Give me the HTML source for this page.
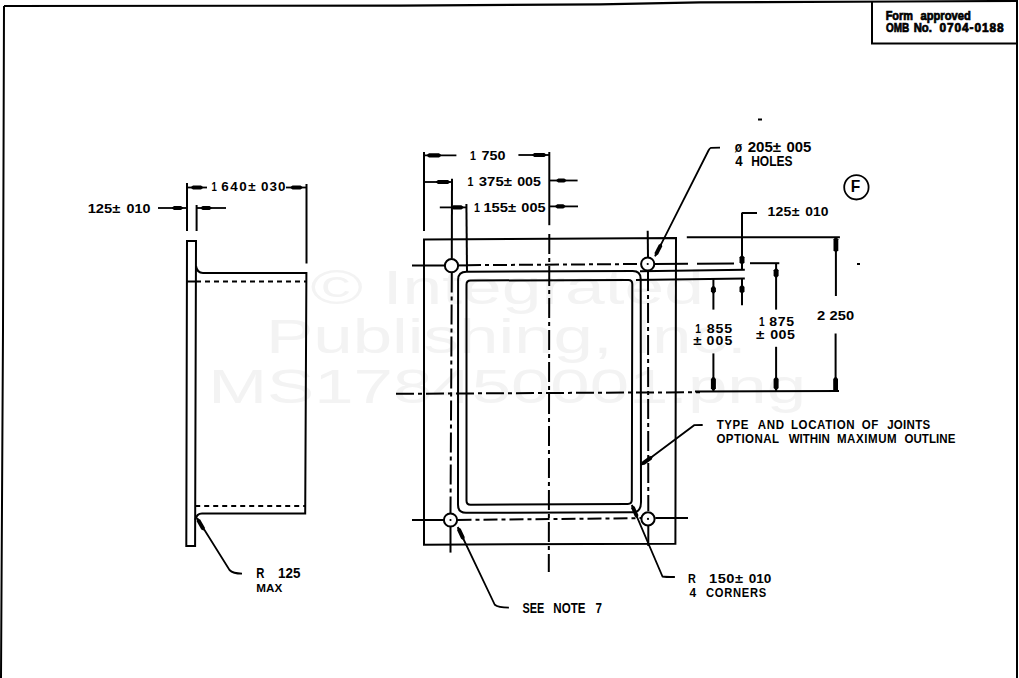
<!DOCTYPE html>
<html><head><meta charset="utf-8">
<style>
html,body{margin:0;padding:0;background:#fff;}
body{width:1019px;height:678px;overflow:hidden;position:relative;}
svg{position:absolute;left:0;top:0;}
text{font-family:"Liberation Sans",sans-serif;}
</style></head><body>
<svg width="1019" height="678" viewBox="0 0 1019 678">
<g fill="#f3f3f3" font-size="48"><text transform="translate(310.43,304) scale(1.4855,1)" textLength="264.88" lengthAdjust="spacingAndGlyphs">© Integrated</text>
<text transform="translate(265.95,353) scale(1.4766,1)" textLength="325.54" lengthAdjust="spacingAndGlyphs">Publishing, Inc.</text>
<text transform="translate(208.16,403) scale(1.4738,1)" textLength="405.69" lengthAdjust="spacingAndGlyphs">MS178450001.png</text></g>
<g fill="none" stroke="#000" stroke-width="2">
<path d="M4,6 L400,5.6 L600,4.3 L700,2.4 L900,1.5 L1017,1" stroke-width="2.2"/>
<path d="M4,6 L3,330 L1,678"/>
<line x1="1017" y1="0" x2="1017" y2="678"/>
<path d="M872,1.5 V43.4 H1017"/>
<line x1="187" y1="183" x2="187" y2="231"/>
<line x1="196.6" y1="205" x2="196.6" y2="231"/>
<line x1="306.5" y1="184" x2="306.5" y2="263.5"/>
<line x1="187" y1="187.5" x2="207" y2="187.5" stroke-width="1.8"/>
<polygon points="191.0,188.1 193.0,189.6 201.0,189.6 203.0,188.1 203.0,186.9 201.0,185.4 193.0,185.4 191.0,186.9" fill="#000" stroke="none"/>
<line x1="286" y1="187.5" x2="306.5" y2="187.5" stroke-width="1.8"/>
<polygon points="302.5,186.9 300.5,185.4 292.5,185.4 290.5,186.9 290.5,188.1 292.5,189.6 300.5,189.6 302.5,188.1" fill="#000" stroke="none"/>
<line x1="158" y1="208" x2="187" y2="208" stroke-width="1.8"/>
<polygon points="183.0,207.4 181.0,205.9 174.0,205.9 172.0,207.4 172.0,208.6 174.0,210.1 181.0,210.1 183.0,208.6" fill="#000" stroke="none"/>
<line x1="196.6" y1="208" x2="226" y2="208" stroke-width="1.8"/>
<polygon points="200.6,208.6 202.6,210.1 209.6,210.1 211.6,208.6 211.6,207.4 209.6,205.9 202.6,205.9 200.6,207.4" fill="#000" stroke="none"/>
<path d="M186.3,546 L187,241 H196 L195.1,546 Z"/>
<path d="M196,266 Q197,273 203,273 H306.4 L305.2,513.5 H202 Q196.5,513.5 195.3,520"/>
<line x1="187" y1="281.5" x2="196" y2="281.5"/>
<line x1="196" y1="281.5" x2="306.4" y2="281.5" stroke-dasharray="5,4"/>
<line x1="195.2" y1="506" x2="305.3" y2="506" stroke-dasharray="5,4"/>
<path d="M197,518 L229.5,570 Q233,573.6 242,573.6" stroke-width="1.8"/>
<polygon points="197.0,519.2 196.8,521.6 201.3,529.4 203.5,530.4 204.5,529.8 204.8,527.4 200.2,519.6 198.0,518.6" fill="#000" stroke="none"/>
<path d="M424,239.4 L676,238 L675.4,543.7 L424,544.7 Z"/>
<path d="M466.5,271.7 L632.7,271.1 Q640.7,271.1 640.7,279 L641,502 Q641,512.2 633,512.2 L466,512.8 Q458,512.8 458,504.8 L458.1,279.7 Q458.1,271.7 466.5,271.7 Z"/>
<path d="M470.5,280.5 L628.3,280 Q632.3,280 632.3,284 L631.8,500 Q631.8,503.9 627.8,503.9 L470.5,504.8 Q466.5,504.8 466.5,500.8 L466.5,284.5 Q466.5,280.5 470.5,280.5 Z"/>
<circle cx="451.5" cy="265.7" r="6.6"/>
<circle cx="647.7" cy="264" r="6.6"/>
<circle cx="647.7" cy="264" r="1.1" fill="#000" stroke="none"/>
<circle cx="450.5" cy="520" r="6.6"/>
<circle cx="450.5" cy="520" r="1.1" fill="#000" stroke="none"/>
<circle cx="648" cy="518.9" r="6.6"/>
<circle cx="648" cy="518.9" r="1.1" fill="#000" stroke="none"/>
<line x1="452" y1="178.7" x2="451.8" y2="258.4"/>
<line x1="451.8" y1="272.4" x2="450.5" y2="513" stroke-dasharray="20,4,4,4"/>
<line x1="450.5" y1="527" x2="450.5" y2="552.6"/>
<line x1="647.7" y1="230.8" x2="648" y2="257"/>
<line x1="648" y1="271" x2="648.3" y2="511" stroke-dasharray="20,4,4,4"/>
<line x1="648.3" y1="525" x2="648.3" y2="546"/>
<line x1="412" y1="265.4" x2="444.8" y2="265.4"/>
<line x1="458.8" y1="265.4" x2="467" y2="265.4"/>
<line x1="467" y1="265.2" x2="640" y2="264" stroke-dasharray="14,4,4,4"/>
<line x1="655" y1="264" x2="688" y2="263.8"/>
<line x1="697" y1="263.7" x2="734" y2="263.6"/>
<line x1="412" y1="520" x2="443.5" y2="520"/>
<line x1="457.5" y1="520" x2="641" y2="518.1" stroke-dasharray="14,4,4,4"/>
<line x1="655.3" y1="518.1" x2="688" y2="518"/>
<line x1="549.3" y1="152" x2="549.3" y2="225.2"/>
<line x1="549.3" y1="234" x2="548.8" y2="572" stroke-dasharray="20,4,4,4"/>
<line x1="396" y1="393.8" x2="700" y2="392.2" stroke-dasharray="18,4,4,4"/>
<line x1="695" y1="391.6" x2="839" y2="391"/>
<line x1="424" y1="152" x2="424" y2="231"/>
<line x1="424" y1="155.4" x2="456.4" y2="155.4" stroke-width="1.8"/>
<polygon points="427.0,156.0 429.0,157.5 439.0,157.5 441.0,156.0 441.0,154.8 439.0,153.3 429.0,153.3 427.0,154.8" fill="#000" stroke="none"/>
<line x1="518.4" y1="155" x2="549.3" y2="155" stroke-width="1.8"/>
<polygon points="546.3,154.4 544.3,152.9 534.3,152.9 532.3,154.4 532.3,155.6 534.3,157.1 544.3,157.1 546.3,155.6" fill="#000" stroke="none"/>
<line x1="424" y1="182" x2="452" y2="182" stroke-width="1.8"/>
<polygon points="450.0,181.4 448.0,179.9 438.0,179.9 436.0,181.4 436.0,182.6 438.0,184.1 448.0,184.1 450.0,182.6" fill="#000" stroke="none"/>
<line x1="549.3" y1="180.5" x2="577.6" y2="180.5" stroke-width="1.8"/>
<polygon points="556.3,181.1 558.3,182.6 564.3,182.6 566.3,181.1 566.3,179.9 564.3,178.4 558.3,178.4 556.3,179.9" fill="#000" stroke="none"/>
<line x1="439.8" y1="207.4" x2="466.4" y2="207.4" stroke-width="1.8"/>
<polygon points="463.4,206.8 461.4,205.3 453.4,205.3 451.4,206.8 451.4,208.0 453.4,209.5 461.4,209.5 463.4,208.0" fill="#000" stroke="none"/>
<line x1="466.4" y1="204" x2="467" y2="271.9"/>
<line x1="549.3" y1="206.4" x2="578" y2="206.4" stroke-width="1.8"/>
<polygon points="555.3,207.0 557.3,208.5 563.3,208.5 565.3,207.0 565.3,205.8 563.3,204.3 557.3,204.3 555.3,205.8" fill="#000" stroke="none"/>
<line x1="686.8" y1="237.3" x2="839.9" y2="237.2"/>
<line x1="835.9" y1="237.2" x2="835.9" y2="296"/>
<polygon points="835.3,237.2 833.5,239.2 833.5,250.2 835.3,252.2 836.5,252.2 838.3,250.2 838.3,239.2 836.5,237.2" fill="#000" stroke="none"/>
<line x1="835.6" y1="333.5" x2="835.6" y2="391"/>
<polygon points="836.2,391.5 838.0,389.5 838.0,379.0 836.2,377.0 835.0,377.0 833.2,379.0 833.2,389.5 835.0,391.5" fill="#000" stroke="none"/>
<line x1="750" y1="263.2" x2="779.3" y2="263.2"/>
<line x1="776.1" y1="263.2" x2="776.1" y2="309.6"/>
<polygon points="775.5,268.2 773.6,270.2 773.6,275.7 775.5,277.7 776.7,277.7 778.6,275.7 778.6,270.2 776.7,268.2" fill="#000" stroke="none"/>
<line x1="776.1" y1="346.8" x2="776.1" y2="391"/>
<polygon points="776.7,390.0 778.6,388.0 778.6,379.0 776.7,377.0 775.5,377.0 773.6,379.0 773.6,388.0 775.5,390.0" fill="#000" stroke="none"/>
<line x1="640" y1="271.3" x2="744.8" y2="269.8"/>
<line x1="636" y1="280" x2="744.8" y2="278.6"/>
<line x1="713.4" y1="279.1" x2="713.4" y2="309.6"/>
<polygon points="712.8,286.1 710.9,288.1 710.9,291.6 712.8,293.6 714.0,293.6 715.9,291.6 715.9,288.1 714.0,286.1" fill="#000" stroke="none"/>
<line x1="713.4" y1="353.4" x2="713.4" y2="391"/>
<polygon points="714.0,390.5 715.9,388.5 715.9,379.0 714.0,377.0 712.8,377.0 710.9,379.0 710.9,388.5 712.8,390.5" fill="#000" stroke="none"/>
<line x1="741.6" y1="213" x2="757" y2="213"/>
<line x1="742" y1="213" x2="742" y2="269.8"/>
<polygon points="742.6,264.4 744.5,262.4 744.5,257.3 742.6,255.3 741.4,255.3 739.5,257.3 739.5,262.4 741.4,264.4" fill="#000" stroke="none"/>
<line x1="742" y1="278.6" x2="742" y2="305.3"/>
<polygon points="741.4,285.0 739.5,287.0 739.5,291.4 741.4,293.4 742.6,293.4 744.5,291.4 744.5,287.0 742.6,285.0" fill="#000" stroke="none"/>
<circle cx="856.4" cy="187.3" r="12.2" stroke-width="1.8"/>
<path d="M720,147.6 L711,147.8 Q709.5,148.5 708.5,150.5 L655,256.3" stroke-width="1.8"/>
<polygon points="656.0,255.7 658.1,254.5 662.2,246.5 661.9,244.1 660.8,243.6 658.7,244.7 654.6,252.7 654.9,255.1" fill="#000" stroke="none"/>
<path d="M702.7,425 L694.2,425.2 L641,465" stroke-width="1.8"/>
<polygon points="642.2,464.9 644.6,464.8 651.8,459.4 652.6,457.1 651.8,456.1 649.4,456.2 642.2,461.6 641.4,463.9" fill="#000" stroke="none"/>
<path d="M457.7,527 L494.8,604.8 Q498,607.6 508.9,607.6" stroke-width="1.8"/>
<polygon points="457.6,528.2 457.2,530.6 461.1,538.7 463.2,539.9 464.3,539.4 464.7,537.0 460.8,528.8 458.7,527.6" fill="#000" stroke="none"/>
<path d="M631.8,504.8 L662.5,576.5 Q665,577 674.9,577" stroke-width="1.8"/>
<polygon points="631.6,506.0 631.2,508.3 634.8,516.6 636.8,517.9 637.9,517.4 638.4,515.0 634.8,506.8 632.7,505.5" fill="#000" stroke="none"/>
<rect x="758" y="118.5" width="4" height="2" fill="#000" stroke="none"/>
<rect x="857" y="263" width="3" height="2" fill="#000" stroke="none"/>
</g>
<g font-weight="bold" fill="#000">
<text transform="translate(885.67,19.7) scale(0.918,1)" font-size="11.9" letter-spacing="0.00" stroke="#000" stroke-width="0.7">Form</text>
<text transform="translate(920.47,19.7) scale(0.940,1)" font-size="11.9" letter-spacing="0.00" stroke="#000" stroke-width="0.7">approved</text>
<text transform="translate(886.00,32.4) scale(0.837,1)" font-size="11.9" letter-spacing="0.00" stroke="#000" stroke-width="0.7">OMB</text>
<text transform="translate(913.64,32.4) scale(0.949,1)" font-size="11.9" letter-spacing="0.00" stroke="#000" stroke-width="0.7">No.</text>
<text transform="translate(939.53,32.4) scale(1.000,1)" font-size="11.9" letter-spacing="0.89" stroke="#000" stroke-width="0.7">0704-0188</text>
<text transform="translate(87.68,213.4) scale(1.098,1)" font-size="13.4" letter-spacing="0.00">125±</text>
<text transform="translate(126.53,213.4) scale(1.070,1)" font-size="13.4" letter-spacing="0.00">010</text>
<text transform="translate(211.47,191.3) scale(0.800,1)" font-size="12.0">1</text>
<text transform="translate(221.30,191.3) scale(1.120,1)" font-size="12.0" letter-spacing="1.38">640±</text>
<text transform="translate(260.96,191.3) scale(1.120,1)" font-size="12.0" letter-spacing="0.92">030</text>
<text transform="translate(470.01,160) scale(0.800,1)" font-size="13.3">1</text>
<text transform="translate(481.59,160) scale(1.078,1)" font-size="13.3" letter-spacing="0.00">750</text>
<text transform="translate(467.46,185.8) scale(0.800,1)" font-size="13.3">1</text>
<text transform="translate(478.77,185.8) scale(1.120,1)" font-size="13.3" letter-spacing="0.06">375±</text>
<text transform="translate(517.23,185.8) scale(1.068,1)" font-size="13.3" letter-spacing="0.00">005</text>
<text transform="translate(474.11,211.6) scale(0.800,1)" font-size="13.3">1</text>
<text transform="translate(483.38,211.6) scale(1.110,1)" font-size="13.3" letter-spacing="0.00">155±</text>
<text transform="translate(521.32,211.6) scale(1.091,1)" font-size="13.3" letter-spacing="0.00">005</text>
<text transform="translate(734.77,151.9) scale(0.800,1)" font-size="15.1">ø</text>
<text transform="translate(747.67,151.9) scale(0.998,1)" font-size="15.1" letter-spacing="0.00">205±</text>
<text transform="translate(786.50,151.9) scale(0.986,1)" font-size="15.1" letter-spacing="0.00">005</text>
<text transform="translate(735.30,166.4) scale(0.920,1)" font-size="14.4">4</text>
<text transform="translate(751.19,166.4) scale(0.833,1)" font-size="14.4" letter-spacing="0.00">HOLES</text>
<text transform="translate(767.42,215.9) scale(1.120,1)" font-size="12.6" letter-spacing="0.21">125±</text>
<text transform="translate(805.35,215.9) scale(1.102,1)" font-size="12.6" letter-spacing="0.00">010</text>
<text transform="translate(850.85,191.9) scale(0.948,1)" font-size="16.4">F</text>
<text transform="translate(816.98,319.8) scale(1.125,1)" font-size="13.1">2</text>
<text transform="translate(829.38,319.8) scale(1.120,1)" font-size="13.1" letter-spacing="0.16">250</text>
<text transform="translate(758.88,325.6) scale(0.800,1)" font-size="12.6">1</text>
<text transform="translate(769.34,325.6) scale(1.120,1)" font-size="12.6" letter-spacing="0.52">875</text>
<text transform="translate(755.90,338.9) scale(1.200,1)" font-size="12.7">±</text>
<text transform="translate(770.13,338.9) scale(1.120,1)" font-size="12.7" letter-spacing="0.45">005</text>
<text transform="translate(695.25,332.7) scale(0.800,1)" font-size="12.7">1</text>
<text transform="translate(706.64,332.7) scale(1.120,1)" font-size="12.7" letter-spacing="0.81">855</text>
<text transform="translate(693.25,345) scale(1.200,1)" font-size="12.6">±</text>
<text transform="translate(706.54,345) scale(1.120,1)" font-size="12.6" letter-spacing="0.97">005</text>
<text transform="translate(716.78,428.7) scale(0.880,1)" font-size="13.1" letter-spacing="0.63">TYPE</text>
<text transform="translate(757.71,428.7) scale(0.880,1)" font-size="13.1" letter-spacing="0.86">AND</text>
<text transform="translate(790.92,428.7) scale(0.880,1)" font-size="13.1" letter-spacing="0.70">LOCATION</text>
<text transform="translate(861.74,428.7) scale(0.880,1)" font-size="13.1" letter-spacing="0.59">OF</text>
<text transform="translate(887.13,428.7) scale(0.880,1)" font-size="13.1" letter-spacing="0.35">JOINTS</text>
<text transform="translate(716.44,442.8) scale(0.880,1)" font-size="13.1" letter-spacing="0.50">OPTIONAL</text>
<text transform="translate(788.67,442.8) scale(0.880,1)" font-size="13.1" letter-spacing="0.02">WITHIN</text>
<text transform="translate(836.92,442.8) scale(0.880,1)" font-size="13.1" letter-spacing="0.65">MAXIMUM</text>
<text transform="translate(904.44,442.8) scale(0.880,1)" font-size="13.1" letter-spacing="0.07">OUTLINE</text>
<text transform="translate(256.26,578.2) scale(0.800,1)" font-size="14.1">R</text>
<text transform="translate(278.06,578.2) scale(0.950,1)" font-size="14.1" letter-spacing="0.00">125</text>
<text transform="translate(256.31,591.9) scale(1.060,1)" font-size="11.0" letter-spacing="0.00">MAX</text>
<text transform="translate(522.57,612.9) scale(0.746,1)" font-size="14.6" letter-spacing="0.00">SEE</text>
<text transform="translate(553.32,612.9) scale(0.792,1)" font-size="14.6" letter-spacing="0.00">NOTE</text>
<text transform="translate(595.42,612.9) scale(0.800,1)" font-size="14.6">7</text>
<text transform="translate(688.06,582.7) scale(0.830,1)" font-size="13.1">R</text>
<text transform="translate(708.98,582.7) scale(1.120,1)" font-size="13.1" letter-spacing="0.46">150±</text>
<text transform="translate(748.66,582.7) scale(1.035,1)" font-size="13.1" letter-spacing="0.00">010</text>
<text transform="translate(689.62,596.9) scale(0.941,1)" font-size="12.7">4</text>
<text transform="translate(706.05,596.9) scale(0.880,1)" font-size="12.7" letter-spacing="0.82">CORNERS</text>
</g>
</svg>
</body></html>
